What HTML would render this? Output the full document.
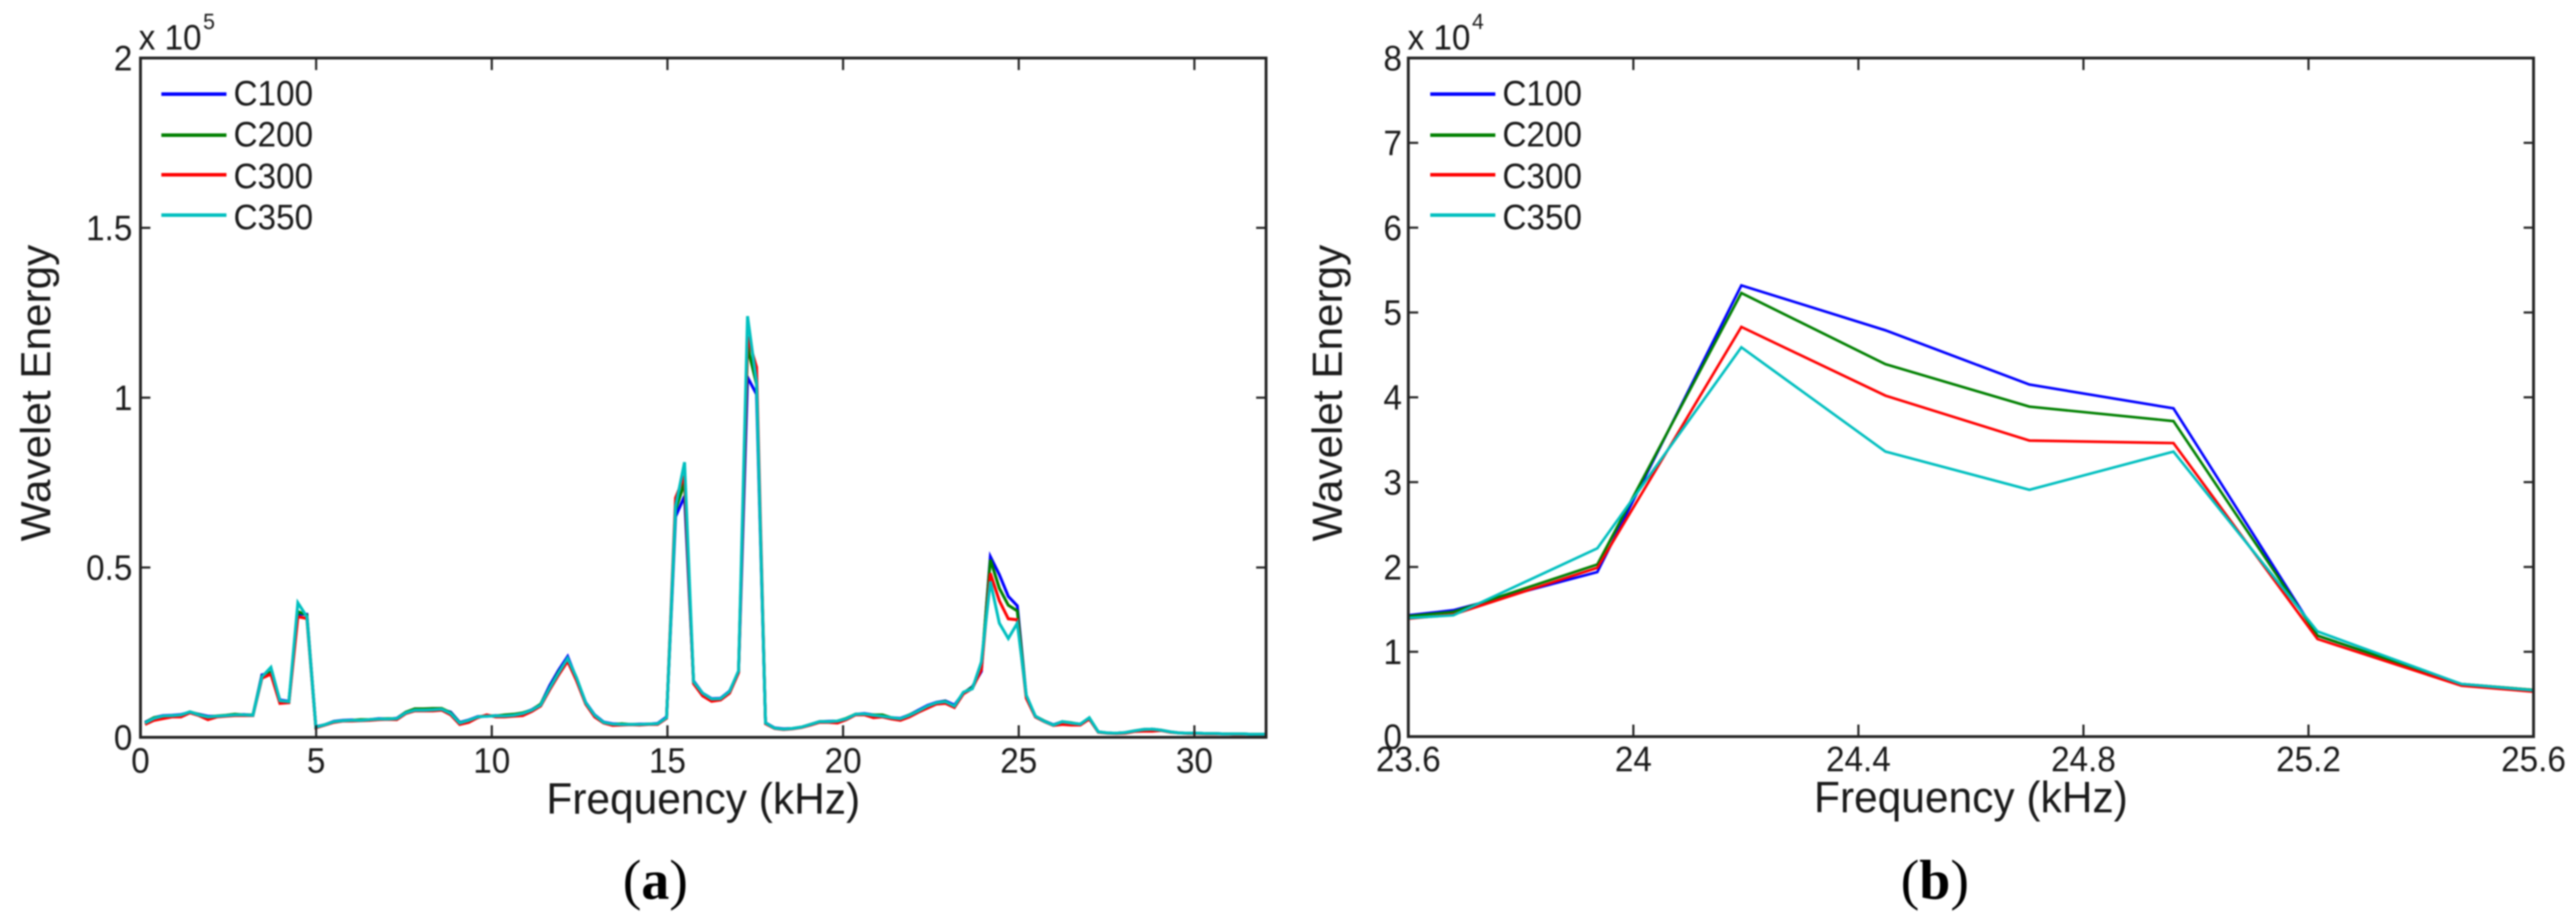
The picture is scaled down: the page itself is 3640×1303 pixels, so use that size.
<!DOCTYPE html>
<html lang="en">
<head>
<meta charset="utf-8">
<title>Wavelet Energy vs Frequency</title>
<style>
html,body{margin:0;padding:0;background:#fff;width:3640px;height:1303px;overflow:hidden}
svg{display:block;filter:blur(1.1px)}
text{font-family:"Liberation Sans",sans-serif;fill:#1a1a1a}
.cap{font-family:"Liberation Serif",serif;font-size:79px;fill:#000}
</style>
</head>
<body>
<svg id="figure" xmlns="http://www.w3.org/2000/svg" width="3640" height="1303" viewBox="0 0 3640 1303">
  <rect width="3640" height="1303" fill="#fff"/>
  <defs>
    <clipPath id="clip-a"><rect x="198.5" y="82" width="1590.5" height="960"/></clipPath>
    <clipPath id="clip-b"><rect x="1990" y="82" width="1590" height="959"/></clipPath>
  </defs>
  <g id="panel-a"></g>
  <g id="panel-b"></g>
  <text class="cap" x="926" y="1270" text-anchor="middle">(<tspan font-weight="bold">a</tspan>)</text>
  <text class="cap" x="2734" y="1270" text-anchor="middle">(<tspan font-weight="bold">b</tspan>)</text>
</svg>
<script>
const frequencies = [
0.128,0.384,0.64,0.896,1.152,1.408,1.664,1.92,2.176,2.432,
2.688,2.944,3.2,3.456,3.712,3.968,4.224,4.48,4.736,4.992,
5.248,5.504,5.76,6.016,6.272,6.528,6.784,7.04,7.296,7.552,
7.808,8.064,8.32,8.576,8.832,9.088,9.344,9.6,9.856,10.112,
10.368,10.624,10.88,11.136,11.392,11.648,11.904,12.16,12.416,12.672,
12.928,13.184,13.44,13.696,13.952,14.208,14.464,14.72,14.976,15.232,
15.488,15.744,16,16.256,16.512,16.768,17.024,17.28,17.536,17.792,
18.048,18.304,18.56,18.816,19.072,19.328,19.584,19.84,20.096,20.352,
20.608,20.864,21.12,21.376,21.632,21.888,22.144,22.4,22.656,22.912,
23.168,23.424,23.68,23.936,24.192,24.448,24.704,24.96,25.216,25.472,
25.728,25.984,26.24,26.496,26.752,27.008,27.264,27.52,27.776,28.032,
28.288,28.544,28.8,29.056,29.312,29.568,29.824,30.08,30.336,30.592,
30.848,31.104,31.36,31.616,31.872,32.128];

/* wavelet energy, in units of 10^4 */
const c100 = [
.44,.58,.64,.65,.67,.74,.68,.62,.62,.64,
.66,.67,.65,1.84,1.90,1.10,1.06,3.62,3.62,.31,
.37,.47,.50,.51,.50,.52,.55,.54,.56,.74,
.83,.82,.82,.82,.74,.44,.51,.61,.62,.64,
.63,.65,.71,.81,.97,1.52,1.98,2.38,1.72,1.03,
.66,.45,.40,.39,.38,.39,.39,.41,.60,6.50,
7.10,1.66,1.30,1.14,1.15,1.36,1.92,10.60,10.10,.43,
.28,.25,.26,.30,.38,.46,.47,.48,.55,.68,
.70,.66,.62,.58,.56,.66,.80,.94,1.03,1.07,
.95,1.30,1.49,1.94,5.32,4.79,4.15,3.87,1.19,.62,
.48,.37,.46,.42,.39,.56,.16,.13,.12,.14,
.19,.23,.24,.21,.16,.13,.12,.12,.11,.11,
.10,.10,.10,.09,.09,.09];
const c200 = [
.43,.58,.62,.64,.65,.75,.67,.60,.63,.65,
.68,.66,.66,1.80,1.92,1.08,1.04,3.70,3.60,.30,
.37,.46,.49,.50,.52,.52,.54,.55,.55,.74,
.84,.84,.85,.85,.72,.43,.50,.60,.64,.63,
.66,.68,.72,.80,.98,1.46,1.92,2.31,1.70,1.00,
.64,.44,.38,.40,.38,.38,.39,.40,.58,6.70,
7.50,1.64,1.28,1.10,1.12,1.34,1.94,11.50,10.40,.42,
.27,.24,.26,.30,.38,.46,.46,.48,.56,.68,
.68,.66,.66,.58,.54,.66,.78,.90,1.02,1.06,
.90,1.31,1.47,2.03,5.23,4.39,3.89,3.72,1.19,.62,
.48,.36,.46,.43,.38,.57,.16,.13,.12,.14,
.19,.23,.24,.21,.16,.13,.12,.12,.11,.11,
.10,.10,.10,.09,.09,.09];
const c300 = [
.38,.50,.55,.60,.60,.72,.64,.52,.60,.62,
.64,.64,.64,1.74,1.86,1.00,1.02,3.55,3.50,.28,
.36,.44,.48,.48,.49,.50,.52,.53,.52,.70,
.78,.78,.78,.80,.66,.38,.44,.58,.66,.60,
.60,.62,.64,.76,.92,1.40,1.84,2.24,1.66,.98,
.60,.42,.35,.36,.37,.36,.38,.38,.56,7.05,
7.70,1.58,1.22,1.06,1.10,1.30,1.90,11.80,10.90,.40,
.26,.23,.25,.29,.36,.44,.44,.42,.52,.66,
.66,.58,.60,.54,.50,.60,.74,.86,.98,1.00,
.88,1.28,1.44,1.99,4.83,4.02,3.49,3.46,1.15,.60,
.46,.35,.38,.36,.36,.54,.15,.12,.11,.12,
.17,.18,.18,.20,.15,.13,.11,.11,.10,.10,
.10,.09,.09,.09,.08,.08];
const c350 = [
.42,.56,.63,.64,.66,.75,.66,.60,.62,.64,
.66,.66,.65,1.78,2.06,1.08,1.05,3.96,3.55,.30,
.37,.46,.49,.50,.50,.52,.54,.54,.55,.72,
.80,.80,.81,.83,.70,.42,.50,.60,.62,.63,
.63,.65,.70,.80,.95,1.45,1.90,2.33,1.75,1.02,
.65,.44,.39,.38,.38,.38,.39,.40,.58,6.80,
8.10,1.64,1.30,1.13,1.14,1.35,1.96,12.40,10.45,.42,
.27,.24,.26,.30,.38,.46,.46,.48,.55,.68,
.69,.65,.62,.58,.55,.65,.78,.92,1.02,1.05,
.92,1.33,1.43,2.22,4.59,3.36,2.91,3.36,1.24,.62,
.47,.36,.46,.42,.39,.58,.16,.13,.12,.14,
.19,.23,.24,.21,.16,.13,.12,.12,.11,.11,
.10,.10,.10,.09,.09,.09];

const seriesNames = ["C100","C200","C300","C350"];
const seriesValues = [c100,c200,c300,c350];
const seriesColors = ["#0000ff","#008000","#ff0000","#00bfbf"];

const xTicksA = [0,5,10,15,20,25,30];
const xTickLabelsA = ["0","5","10","15","20","25","30"];
const yTicksA = [0,5,10,15,20];
const yTickLabelsA = ["0","0.5","1","1.5","2"];
const xTicksB = [23.6,24,24.4,24.8,25.2,25.6];
const xTickLabelsB = ["23.6","24","24.4","24.8","25.2","25.6"];
const yTicksB = [0,1,2,3,4,5,6,7,8];
const yTickLabelsB = ["0","1","2","3","4","5","6","7","8"];

const SVGNS = "http://www.w3.org/2000/svg";
function el(parent, tag, attrs, txt){
  const e = document.createElementNS(SVGNS, tag);
  for (const k in attrs) e.setAttribute(k, attrs[k]);
  if (txt !== undefined) e.textContent = txt;
  parent.appendChild(e);
  return e;
}
function label(parent, x, y, str, size, anchor, sy){
  return el(parent, "text", {
    transform: "translate(" + x + "," + y + ") scale(1," + sy + ")",
    "font-size": size, "text-anchor": anchor
  }, str);
}

function drawPanel(root, p){
  const sx = v => p.left + (v - p.xMin) * (p.right - p.left) / (p.xMax - p.xMin);
  const sy = v => p.bottom - (v - p.yMin) * (p.bottom - p.top) / (p.yMax - p.yMin);
  const clipped = el(root, "g", {"clip-path": "url(#" + p.clip + ")"});
  
  
  seriesValues.forEach((vals, s) => {
    const pts = vals.map((v, i) => sx(frequencies[i]).toFixed(1) + "," + sy(v).toFixed(1)).join(" ");
    const line = el(clipped, "polyline", {points: pts, fill: "none", stroke: seriesColors[s], "stroke-width": p.lw, "stroke-linejoin": "miter"});
    
    
  });
  const frame = el(root, "rect", {x: p.left, y: p.top, width: p.right - p.left, height: p.bottom - p.top, fill: "none", stroke: "#222", "stroke-width": 4});
  
  

  p.xTicks.forEach((t, i) => {
    const x = sx(t);
    const g = el(root, "g", {});
    
    
    el(g, "line", {x1: x, x2: x, y1: p.bottom, y2: p.bottom - 17, stroke: "#222", "stroke-width": 3});
    el(g, "line", {x1: x, x2: x, y1: p.top, y2: p.top + 17, stroke: "#222", "stroke-width": 3});
    label(g, x, p.xLabelY, p.xLabels[i], 47, "middle", 1.06);
  });
  p.yTicks.forEach((t, i) => {
    const y = sy(t);
    const g = el(root, "g", {});
    
    
    el(g, "line", {x1: p.left, x2: p.left + 14, y1: y, y2: y, stroke: "#222", "stroke-width": 3});
    el(g, "line", {x1: p.right, x2: p.right - 14, y1: y, y2: y, stroke: "#222", "stroke-width": 3});
    label(g, p.yLabelX, y + 17.5, p.yLabels[i], 47, "end", 1.06);
  });

  const xt = label(root, (p.left + p.right) / 2, p.xTitleY, "Frequency (kHz)", 60, "middle", 1.04);
  
  
  const yt = el(root, "text", {transform: "translate(" + p.yTitleX + ",555.5) rotate(-90)", "font-size": 59.7, "text-anchor": "middle"}, "Wavelet Energy");
  
  

  const mult = el(root, "g", {});
  
  
  label(mult, p.multX, 70, "x 10", 47, "start", 1.06);
  label(mult, p.multX + 91, 41, p.multExp, 30, "start", 1.06);

  const legendYs = [133, 191, 247, 304];
  const legendTextYs = [149, 207, 266, 324];
  seriesNames.forEach((name, s) => {
    const g = el(root, "g", {});
    
    
    el(g, "line", {x1: p.legendX, x2: p.legendX + 92, y1: legendYs[s], y2: legendYs[s], stroke: seriesColors[s], "stroke-width": 5});
    label(g, p.legendX + 102, legendTextYs[s], name, 47, "start", 1.06);
  });
}

drawPanel(document.getElementById("panel-a"), {
  clip: "clip-a", left: 198.5, right: 1789, top: 82, bottom: 1042,
  xMin: 0, xMax: 32.04, yMin: 0, yMax: 20, lw: 4.2,
  xTicks: xTicksA, xLabels: xTickLabelsA, yTicks: yTicksA, yLabels: yTickLabelsA,
  xLabelY: 1092, yLabelX: 187, xTitleY: 1150, yTitleX: 71,
  multX: 196, multExp: "5", legendX: 228
});
drawPanel(document.getElementById("panel-b"), {
  clip: "clip-b", left: 1990, right: 3580, top: 82, bottom: 1041,
  xMin: 23.6, xMax: 25.6, yMin: 0, yMax: 8, lw: 3.7,
  xTicks: xTicksB, xLabels: xTickLabelsB, yTicks: yTicksB, yLabels: yTickLabelsB,
  xLabelY: 1090, yLabelX: 1981, xTitleY: 1148, yTitleX: 1896,
  multX: 1989, multExp: "4", legendX: 2021
});
</script>
</body>
</html>
